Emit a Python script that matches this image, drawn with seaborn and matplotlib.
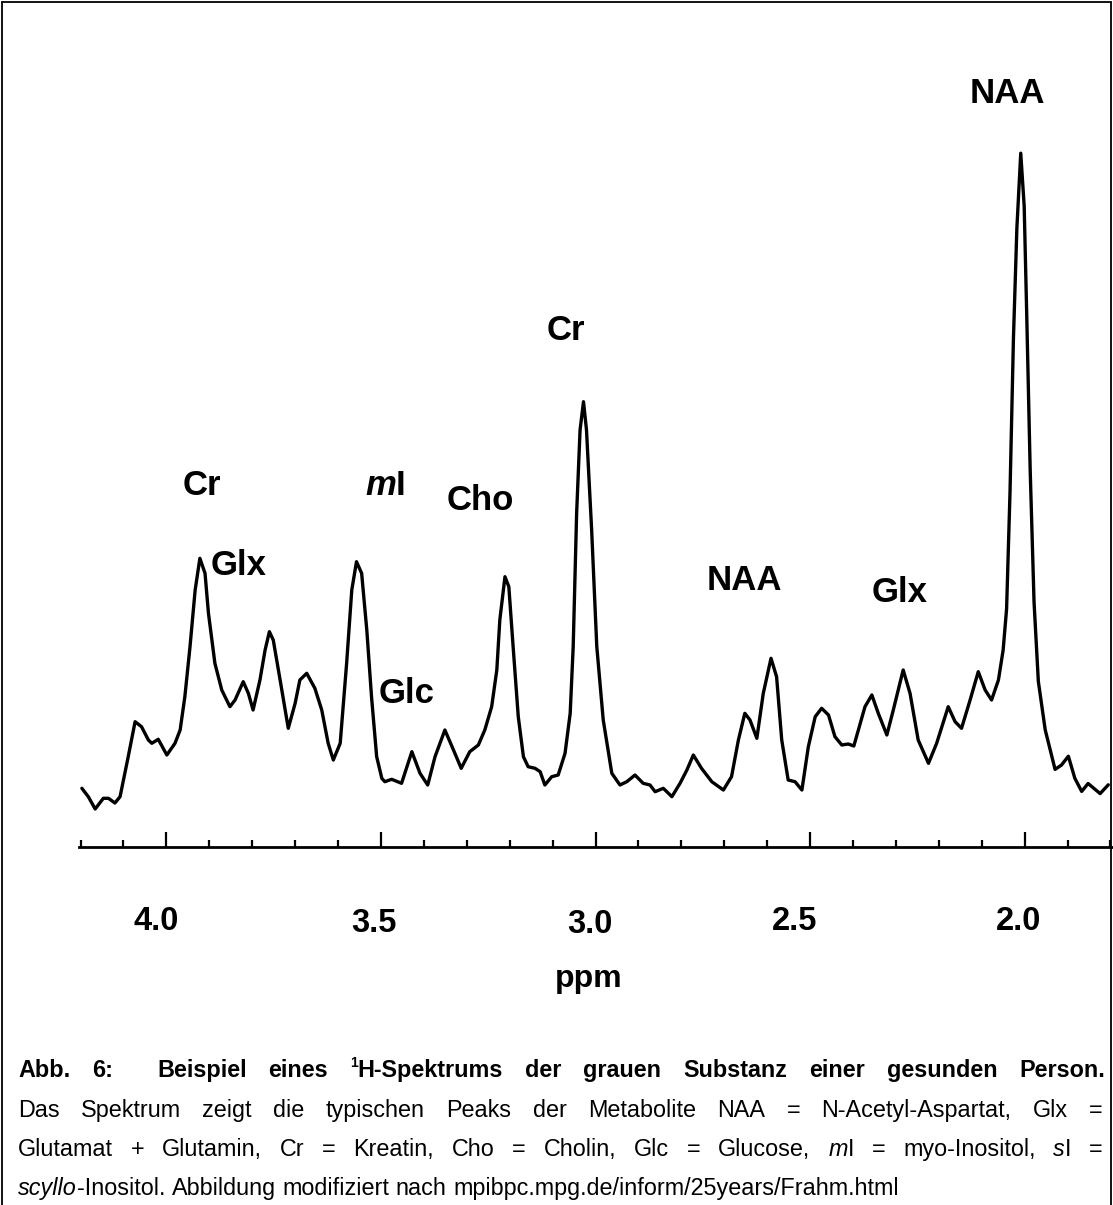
import re
import numpy as np
import pandas as pd
import matplotlib
matplotlib.use("Agg")
import matplotlib.pyplot as plt
import seaborn as sns
from matplotlib.transforms import blended_transform_factory, offset_copy
from matplotlib.lines import Line2D

# ---------------- data ----------------
ppm = [
    4.197, 4.182, 4.166, 4.147, 4.135, 4.120, 4.108, 4.089, 4.073, 4.058,
    4.042, 4.034, 4.019, 3.999, 3.980, 3.968, 3.957, 3.945, 3.933, 3.922,
    3.910, 3.902, 3.887, 3.871, 3.852,
    3.840, 3.821, 3.809, 3.798, 3.782, 3.770, 3.760, 3.751, 3.735, 3.716,
    3.700, 3.689, 3.673, 3.654, 3.638, 3.623, 3.611, 3.595, 3.580, 3.568,
    3.557, 3.545, 3.533, 3.522, 3.510, 3.498,
    3.491, 3.475, 3.452, 3.428, 3.409, 3.391, 3.374, 3.351, 3.331, 3.313,
    3.293, 3.273, 3.258, 3.242, 3.230, 3.223, 3.211, 3.202, 3.192, 3.180,
    3.168, 3.157, 3.141,
    3.129, 3.118, 3.102, 3.087, 3.071, 3.059, 3.052, 3.044, 3.036, 3.028,
    3.021, 3.009, 2.997, 2.982, 2.962, 2.943, 2.927, 2.908, 2.889, 2.873,
    2.861, 2.842, 2.822, 2.803, 2.787, 2.772,
    2.753, 2.729, 2.702, 2.683, 2.667, 2.652, 2.640, 2.624, 2.609, 2.591,
    2.578, 2.566, 2.551, 2.535, 2.519, 2.504, 2.488, 2.473, 2.457, 2.442,
    2.426, 2.411, 2.398,
    2.372, 2.356, 2.341, 2.321, 2.306, 2.283, 2.267, 2.248, 2.224, 2.205,
    2.178, 2.162, 2.147, 2.127, 2.108, 2.092, 2.077, 2.061, 2.050,
    2.042, 2.034, 2.026, 2.018, 2.009, 2.001, 1.995, 1.987, 1.978, 1.968,
    1.952, 1.929, 1.914, 1.898, 1.883, 1.867, 1.852, 1.824, 1.805,
]
intensity = [
    6.17, 5.33, 4.10, 5.17, 5.17, 4.70, 5.33, 9.33, 12.83, 12.33,
    11.00, 10.67, 11.07, 9.50, 10.67, 12.00, 15.33, 20.33, 26.00, 29.17,
    27.67, 23.67, 18.67, 16.00, 14.33,
    15.00, 16.83, 15.67, 14.00, 17.00, 20.00, 21.83, 21.00, 17.00, 12.17,
    14.67, 17.00, 17.67, 16.17, 14.00, 10.67, 9.00, 10.67, 18.67, 26.00,
    28.83, 27.67, 22.00, 15.33, 9.33, 7.17,
    6.83, 7.07, 6.67, 9.83, 7.67, 6.50, 9.33, 12.00, 10.00, 8.17,
    9.83, 10.50, 12.00, 14.33, 18.00, 23.00, 27.33, 26.33, 20.33, 13.33,
    9.33, 8.33, 8.17,
    7.83, 6.50, 7.33, 7.50, 9.67, 13.67, 20.33, 33.67, 42.00, 44.83,
    42.00, 32.00, 20.33, 13.00, 7.67, 6.50, 6.83, 7.50, 6.67, 6.50,
    5.83, 6.17, 5.33, 6.67, 8.00, 9.50,
    8.17, 6.83, 6.00, 7.33, 11.00, 13.67, 13.00, 11.17, 15.67, 19.17,
    17.33, 11.00, 7.00, 6.83, 6.00, 10.33, 13.33, 14.17, 13.50, 11.33,
    10.50, 10.60, 10.40,
    14.33, 15.50, 13.67, 11.50, 14.00, 18.00, 15.67, 11.00, 8.67, 10.67,
    14.33, 12.83, 12.17, 15.00, 17.83, 16.00, 15.00, 17.00, 20.00,
    24.10, 35.79, 51.20, 62.20, 69.68, 64.40, 53.40, 38.00, 24.79, 16.86,
    12.02, 8.06, 8.50, 9.38, 7.18, 5.86, 6.65, 5.64, 6.52,
]

major_ticks = [4.0, 3.5, 3.0, 2.5, 2.0]
tick_labels = ["4.0", "3.5", "3.0", "2.5", "2.0"]
minor_ticks = [4.2, 4.1, 3.9, 3.8, 3.7, 3.6, 3.4, 3.3, 3.2, 3.1,
               2.9, 2.8, 2.7, 2.6, 2.4, 2.3, 2.2, 2.1, 1.9, 1.8]
axis_title = "ppm"

peak_labels = ["NAA", "Cr", "Cr", "*m*I", "Cho", "Glx", "Glc", "NAA", "Glx"]

caption_lines = [
    "Abb. 6:  Beispiel eines ^1^H-Spektrums der grauen Substanz einer gesunden Person.",
    "Das Spektrum zeigt die typischen Peaks der Metabolite NAA = N-Acetyl-Aspartat, Glx =",
    "Glutamat + Glutamin, Cr = Kreatin, Cho = Cholin, Glc = Glucose, *m*I = myo-Inositol, *s*I =",
    "*scyllo*-Inositol. Abbildung modifiziert nach mpibpc.mpg.de/inform/25years/Frahm.html",
]

# ---------------- layout ----------------
W, H, DPI = 1113, 1205, 100

sns.set_theme(style="white")
plt.rcParams["font.family"] = ["Liberation Sans", "DejaVu Sans"]

fig = plt.figure(figsize=(W / DPI, H / DPI), dpi=DPI)
fig.patch.set_facecolor("white")

ax_l, ax_r, ax_t, ax_b = 79, 1113, 100, 847
ax = fig.add_axes([ax_l / W, 1 - ax_b / H, (ax_r - ax_l) / W, (ax_b - ax_t) / H])
ax.set_facecolor("white")

df = pd.DataFrame({"ppm": ppm, "intensity": intensity})
sns.lineplot(data=df, x="ppm", y="intensity", ax=ax, color="black",
             linewidth=2.4, sort=False, estimator=None, legend=False)
for ln in ax.get_lines():
    ln.set_solid_joinstyle("round")
    ln.set_solid_capstyle("round")

ax.set_xlim(4.2037, 1.7940)
ax.set_ylim(0.3, 75)
ax.set_xlabel("")
ax.set_ylabel("")
ax.set_yticks([])
ax.set_xticks(major_ticks)
ax.set_xticks(minor_ticks, minor=True)
ax.tick_params(axis="x", which="major", direction="in", length=10.8, width=1.6,
               color="black", bottom=True, labelbottom=False)
ax.tick_params(axis="x", which="minor", direction="in", length=5.0, width=1.6,
               color="black", bottom=True, labelbottom=False)
for s in ["top", "right", "left"]:
    ax.spines[s].set_visible(False)
ax.spines["bottom"].set_color("black")
ax.spines["bottom"].set_linewidth(2.0)
ax.grid(False)

# tick labels (bold, slightly offset as in the original)
tick_dx = [-10, -7, -5.5, -15, -6]
tick_base = [930, 932, 933, 930, 930]
btrans = blended_transform_factory(ax.transData, fig.transFigure)
for v, lab, dx, yb in zip(major_ticks, tick_labels, tick_dx, tick_base):
    ax.text(v, 1 - yb / H, lab, transform=offset_copy(btrans, fig, x=dx, y=0, units="dots"),
            ha="center", va="baseline", fontsize=23.5, fontweight="bold", color="black")

fig.text(589 / W, 1 - 987 / H, axis_title, ha="center", va="baseline",
         fontsize=23, fontweight="bold", color="black")

# ---------------- rich text helpers ----------------
renderer = fig.canvas.get_renderer()
TOKEN = re.compile(r"\*([^*]+)\*|\^([^^]+)\^|([^*^]+)")


def parse_word(word):
    runs = []
    for m in TOKEN.finditer(word):
        if m.group(1):
            runs.append((m.group(1), "italic"))
        elif m.group(2):
            runs.append((m.group(2), "super"))
        else:
            runs.append((m.group(3), "plain"))
    return runs


def build_word(runs, size, weight):
    arts = []
    for txt, kind in runs:
        fs = size * 0.6 if kind == "super" else size
        style = "italic" if kind == "italic" else "normal"
        t = fig.text(0, 0, txt, fontsize=fs, fontweight=weight, fontstyle=style,
                     ha="left", va="baseline", color="black")
        w = t.get_window_extent(renderer).width
        dy = size * 0.42 * DPI / 72 if kind == "super" else 0.0
        arts.append([t, w, dy])
    return arts


def text_w(s, size, weight):
    t = fig.text(0, 0, s, fontsize=size, fontweight=weight)
    w = t.get_window_extent(renderer).width
    t.remove()
    return w


def space_w(size, weight):
    return text_w("x x", size, weight) - text_w("xx", size, weight)


def place_word(built, x, ybase):
    for t, w, dy in built:
        t.set_position((x / W, 1 - (ybase - dy) / H))
        x += w
    return x


def natural_width(line, size, weight):
    words = line.split(" ")
    total = 0.0
    for w in words:
        for t, wd, dy in build_word(parse_word(w), size, weight):
            total += wd
            t.remove()
    return total + space_w(size, weight) * (len(words) - 1)


def place_line(line, size, weight, x0, x1, ybase, justify):
    words = line.split(" ")
    built = [build_word(parse_word(w), size, weight) for w in words]
    widths = [sum(a[1] for a in b) for b in built]
    sp = space_w(size, weight)
    if justify and len(words) > 1:
        gap = max((x1 - x0 - sum(widths)) / (len(words) - 1), 0.6 * sp)
    else:
        gap = sp
    x = x0
    for b, wd in zip(built, widths):
        place_word(b, x, ybase)
        x += wd + gap


# ---------------- peak labels ----------------
peak_pos = [(970, 103), (547, 340), (183, 495), (365, 495), (447, 510),
            (211, 575), (379, 703), (707, 590), (872, 602)]
for lab, (px, py) in zip(peak_labels, peak_pos):
    place_word(build_word(parse_word(lab), 25, "bold"), px, py)

# ---------------- caption ----------------
base = 17.0
cap_size = base * 880.0 / natural_width(caption_lines[3], base, "normal")
cap_weights = ["bold", "normal", "normal", "normal"]
cap_justify = [True, True, True, False]
cap_base = [1077, 1117, 1156, 1195]
cap_right = [1105, 1103, 1103, 1103]
for line, wgt, just, yb, xr in zip(caption_lines, cap_weights, cap_justify, cap_base, cap_right):
    place_line(line, cap_size, wgt, 18, xr, yb, just)

# ---------------- frame ----------------
fx0, fx1, fy0 = 1.5 / W, 1111 / W, 1 - 1.5 / H
for xs, ys in [([fx0, fx0], [0, fy0]), ([fx0, fx1], [fy0, fy0]), ([fx1, fx1], [fy0, 0])]:
    fig.add_artist(Line2D(xs, ys, transform=fig.transFigure, color="black", lw=1.3))

fig.savefig("out.png", dpi=DPI, facecolor="white")
